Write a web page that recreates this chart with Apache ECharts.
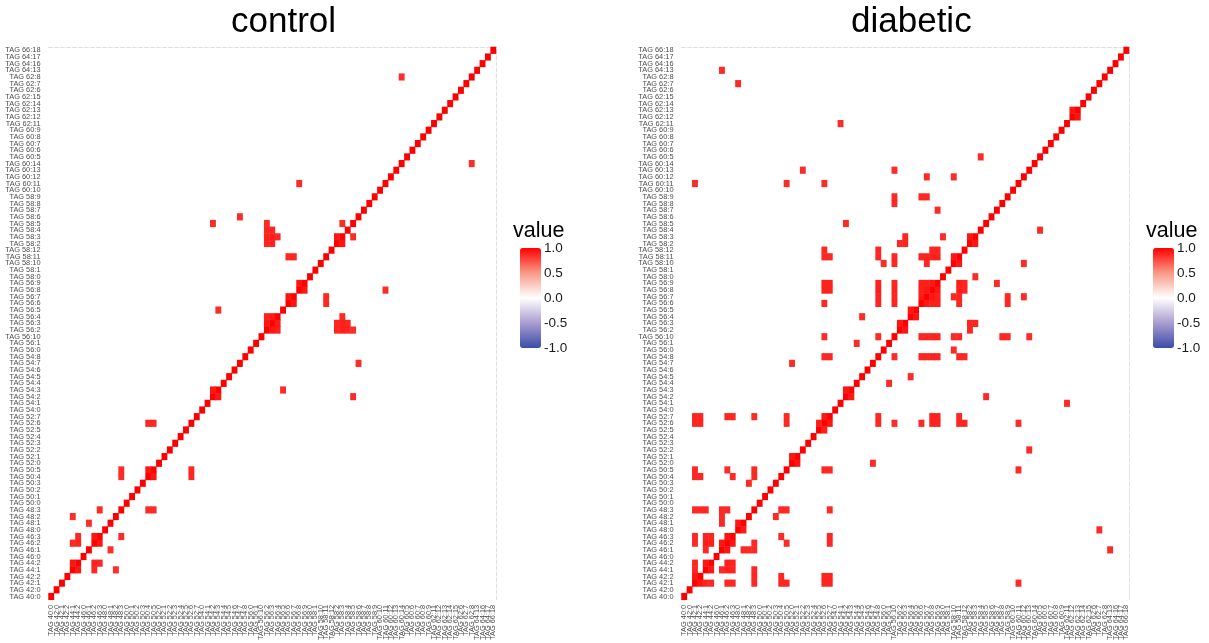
<!DOCTYPE html>
<html>
<head>
<meta charset="utf-8">
<script src="https://cdn.jsdelivr.net/npm/echarts@6/dist/echarts.min.js"></script>
<style>
html,body{margin:0;padding:0;background:#fff}
#main{width:1209px;height:643px}
</style>
</head>
<body>
<div id="main"></div>
<script>
// lipid species, bottom -> top (same order on x, left -> right)
var categories = [
  'TAG 40:0','TAG 42:0','TAG 42:1','TAG 42:2','TAG 44:1','TAG 44:2','TAG 46:0','TAG 46:1','TAG 46:2','TAG 46:3',
  'TAG 48:0','TAG 48:1','TAG 48:2','TAG 48:3','TAG 50:0','TAG 50:1','TAG 50:2','TAG 50:3','TAG 50:4','TAG 50:5',
  'TAG 52:0','TAG 52:1','TAG 52:2','TAG 52:3','TAG 52:4','TAG 52:5','TAG 52:6','TAG 52:7','TAG 54:0','TAG 54:1',
  'TAG 54:2','TAG 54:3','TAG 54:4','TAG 54:5','TAG 54:6','TAG 54:7','TAG 54:8','TAG 56:0','TAG 56:1','TAG 56:10',
  'TAG 56:2','TAG 56:3','TAG 56:4','TAG 56:5','TAG 56:6','TAG 56:7','TAG 56:8','TAG 56:9','TAG 58:0','TAG 58:1',
  'TAG 58:10','TAG 58:11','TAG 58:12','TAG 58:2','TAG 58:3','TAG 58:4','TAG 58:5','TAG 58:6','TAG 58:7','TAG 58:8',
  'TAG 58:9','TAG 60:10','TAG 60:11','TAG 60:12','TAG 60:13','TAG 60:14','TAG 60:5','TAG 60:6','TAG 60:7','TAG 60:8',
  'TAG 60:9','TAG 62:11','TAG 62:12','TAG 62:13','TAG 62:14','TAG 62:15','TAG 62:6','TAG 62:7','TAG 62:8','TAG 64:13',
  'TAG 64:16','TAG 64:17','TAG 66:18'
];

// off-diagonal correlations kept in the plot (matrix is symmetric)
var controlPairs = [
  ['44:1','44:2',0.93],['44:1','46:2',0.87],['44:2','46:2',0.88],['44:2','46:3',0.87],['46:2','46:3',0.93],
  ['44:1','48:2',0.85],['46:1','48:1',0.85],['46:3','48:3',0.86],['48:3','50:4',0.86],['48:3','50:5',0.86],
  ['50:4','50:5',0.93],['50:4','52:6',0.87],['50:5','52:6',0.87],['54:2','54:3',0.93],['54:3','56:5',0.86],
  ['54:2','58:5',0.86],['54:7','58:6',0.86],['56:2','56:3',0.93],['56:2','56:4',0.9],['56:3','56:4',0.92],
  ['56:2','58:2',0.88],['56:2','58:3',0.9],['56:2','58:4',0.88],['56:2','58:5',0.86],['56:3','58:2',0.88],
  ['56:3','58:3',0.9],['56:3','58:4',0.88],['56:4','58:3',0.87],['56:6','56:7',0.93],['56:6','58:11',0.87],
  ['56:7','58:11',0.87],['56:8','56:9',0.93],['56:8','60:11',0.86],['58:2','58:3',0.93],['58:3','58:5',0.86],
  ['60:14','62:8',0.85]
];

var diabeticPairs = [
  ['42:1','42:2',0.93],['44:1','44:2',0.93],['46:1','46:2',0.93],['46:2','46:3',0.93],['48:0','48:1',0.92],
  ['52:0','52:1',0.93],['52:5','52:6',0.9],['52:6','52:7',0.93],['54:2','54:3',0.93],['56:2','56:3',0.93],
  ['56:4','56:5',0.93],['58:10','58:11',0.93],['58:2','58:3',0.93],['62:12','62:13',0.93],
  ['56:6','56:7',0.92],['56:6','56:8',0.9],['56:6','56:9',0.9],['56:7','56:8',0.93],['56:7','56:9',0.9],['56:8','56:9',0.93],
  ['42:1','44:1',0.88],['42:1','44:2',0.87],['42:1','46:2',0.87],['42:1','46:3',0.87],['44:1','46:1',0.87],
  ['44:1','46:2',0.9],['44:1','46:3',0.88],['44:2','46:2',0.9],['44:2','46:3',0.88],
  ['42:1','48:3',0.87],['42:2','48:3',0.87],['44:1','48:3',0.87],['46:1','48:1',0.87],['46:1','48:2',0.86],
  ['46:1','48:3',0.87],['46:2','48:3',0.87],['48:2','50:3',0.86],
  ['42:1','50:4',0.87],['42:1','50:5',0.87],['42:2','50:4',0.87],['46:2','50:5',0.86],['46:3','50:4',0.86],
  ['48:3','50:4',0.87],['48:3','50:5',0.87],
  ['42:1','52:6',0.88],['42:1','52:7',0.88],['42:2','52:6',0.88],['42:2','52:7',0.88],['46:2','52:7',0.87],
  ['46:3','52:7',0.87],['48:3','52:7',0.86],['50:5','52:6',0.87],['50:5','52:7',0.87],
  ['52:0','54:7',0.86],['52:6','54:8',0.87],['52:7','54:8',0.87],['52:6','56:10',0.86],['54:8','56:10',0.86],
  ['54:4','56:1',0.86],['54:5','56:4',0.86],['56:2','58:2',0.87],['56:3','58:2',0.88],['56:3','58:3',0.88],
  ['56:10','56:6',0.88],['56:10','56:7',0.88],['56:10','56:8',0.89],['56:10','56:9',0.88],['56:10','58:10',0.87],
  ['56:10','58:11',0.87],['56:10','58:8',0.87],['56:10','58:9',0.87],['56:10','60:13',0.86],['56:0','58:10',0.86],
  ['54:8','56:6',0.88],['54:8','56:7',0.88],['54:8','56:8',0.9],['54:8','56:9',0.89],['54:8','58:11',0.87],
  ['54:8','58:12',0.87],['54:2','58:5',0.86],['54:1','62:11',0.86],
  ['52:6','56:6',0.87],['52:6','56:8',0.89],['52:6','56:9',0.89],['52:6','58:11',0.87],['52:6','58:12',0.87],
  ['52:6','60:11',0.86],['52:7','56:8',0.89],['52:7','56:9',0.89],['52:7','58:11',0.87],
  ['52:2','60:13',0.86],['50:5','60:11',0.86],['48:0','62:7',0.86],['46:1','64:13',0.86],['42:1','60:11',0.86],
  ['58:4','60:5',0.86],['56:7','60:12',0.86],['58:10','60:12',0.86],['56:6','58:9',0.87],['56:7','58:9',0.87],
  ['56:9','58:7',0.86],['58:0','58:3',0.86],['56:8','58:12',0.88],['56:9','58:12',0.88],
  ['56:6','58:11',0.88],['56:7','58:11',0.88],['56:8','58:11',0.9],['56:9','58:11',0.9],['56:7','58:10',0.87]
];

var legendTicks = [-1, -0.5, 0, 0.5, 1];
var fillColors = ['#3A4CA8', '#A99DCF', '#FFFFFF', '#F89A86', '#FF0000'];

function buildData(pairs) {
  var data = [];
  for (var i = 0; i < categories.length; i++) {
    data.push([i, i, 1]);
  }
  pairs.forEach(function (p) {
    var a = categories.indexOf('TAG ' + p[0]);
    var b = categories.indexOf('TAG ' + p[1]);
    data.push([a, b, p[2]]);
    data.push([b, a, p[2]]);
  });
  return data;
}

var font = 'Liberation Sans, Arial, sans-serif';
var panels = [{left: 48.5, name: 'control', titleLeft: 226}, {left: 681.5, name: 'diabetic', titleLeft: 846}];
var legendLeft = [520, 1153];

var grids = [], xAxes = [], yAxes = [], titles = [], visualMaps = [];

panels.forEach(function (p) {
  grids.push({left: p.left, top: 47, width: 447.5, height: 553.5});
});
panels.forEach(function (p, k) {
  grids.push({left: legendLeft[k], top: 248, width: 21, height: 100});
});

// main axes
panels.forEach(function (p, k) {
  xAxes.push({
    gridIndex: k, type: 'category', data: categories, position: 'bottom',
    axisLine: {show: false},
    axisTick: {alignWithLabel: true, length: 3, lineStyle: {color: '#333'}},
    axisLabel: {interval: 0, rotate: 90, fontSize: 7.4, color: '#4d4d4d', margin: 5, fontFamily: font},
    splitLine: {show: false}
  });
  yAxes.push({
    gridIndex: k, type: 'category', data: categories, position: 'left',
    axisLine: {show: false},
    axisTick: {alignWithLabel: true, length: 3, lineStyle: {color: '#333'}},
    axisLabel: {interval: 0, fontSize: 7.4, color: '#4d4d4d', margin: 8, fontFamily: font},
    splitLine: {show: false}
  });
});
// faint dashed frame on top/right
panels.forEach(function (p, k) {
  xAxes.push({
    gridIndex: k, type: 'category', data: categories, position: 'top',
    axisLine: {lineStyle: {color: '#e0e0e0', type: 'dashed'}},
    axisTick: {show: false}, axisLabel: {show: false}
  });
  yAxes.push({
    gridIndex: k, type: 'category', data: categories, position: 'right',
    axisLine: {lineStyle: {color: '#e0e0e0', type: 'dashed'}},
    axisTick: {show: false}, axisLabel: {show: false}
  });
});
// colour bar scales
panels.forEach(function (p, k) {
  xAxes.push({gridIndex: 2 + k, type: 'value', min: 0, max: 1, show: false});
  yAxes.push({
    gridIndex: 2 + k, type: 'value', min: legendTicks[0], max: legendTicks[legendTicks.length - 1],
    interval: 0.5, position: 'right',
    axisLine: {show: false},
    axisTick: {show: false},
    splitLine: {show: false},
    axisLabel: {
      fontSize: 13.5, color: '#1a1a1a', margin: 3, fontFamily: font,
      formatter: function (v) { return v.toFixed(1); }
    }
  });
});

panels.forEach(function (p, k) {
  titles.push({
    text: p.name, left: p.titleLeft, top: 0,
    textStyle: {fontSize: 35, fontWeight: 'normal', color: '#000', fontFamily: font}
  });
  titles.push({
    text: 'value', left: legendLeft[k] - 12, top: 215,
    textStyle: {fontSize: 21.5, fontWeight: 'normal', color: '#000', fontFamily: font}
  });
  visualMaps.push({
    type: 'continuous', seriesIndex: k, min: -1, max: 1,
    left: legendLeft[k], top: 248, itemWidth: 21, itemHeight: 100,
    padding: 0, calculable: false, text: null, showLabel: false,
    inRange: {color: fillColors}
  });
});

var chart = echarts.init(document.getElementById('main'));
chart.setOption({
  animation: false,
  backgroundColor: '#fff',
  title: titles,
  grid: grids,
  xAxis: xAxes,
  yAxis: yAxes,
  visualMap: visualMaps,
  series: [
    {type: 'heatmap', xAxisIndex: 0, yAxisIndex: 0, data: buildData(controlPairs), emphasis: {disabled: true}},
    {type: 'heatmap', xAxisIndex: 1, yAxisIndex: 1, data: buildData(diabeticPairs), emphasis: {disabled: true}}
  ]
});
</script>
</body>
</html>
